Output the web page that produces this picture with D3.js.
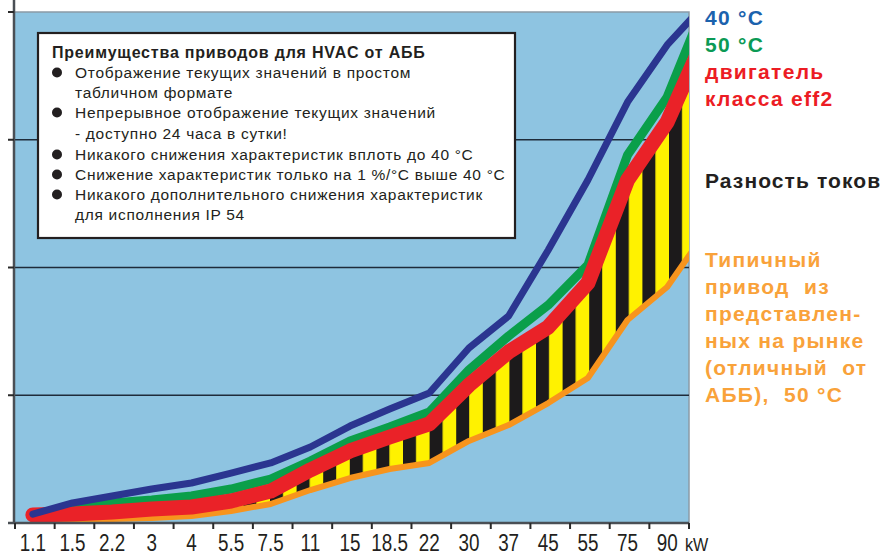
<!DOCTYPE html>
<html>
<head>
<meta charset="utf-8">
<script src="https://cdn.jsdelivr.net/npm/d3@7"></script>
<style>
  body { margin: 0; background: #fff; }
  svg { display: block; }
  text { font-family: "Liberation Sans", Arial, Helvetica, sans-serif; }
</style>
</head>
<body>
<svg id="chart" width="887" height="556"></svg>
<script>
// motor power, kW
var categories = ["1.1", "1.5", "2.2", "3", "4", "5.5", "7.5", "11", "15", "18.5", "22", "30", "37", "45", "55", "75", "90"];
// one more point past 90 kW, the lines run into it and get clipped at the frame
var offAxis = "110";

// relative current (no scale printed on the chart), last value = offAxis
var drive40 = [7.0, 15.7, 21.1, 26.6, 31.3, 39.1, 47.0, 59.5, 75.9, 89.2, 101.8, 137.0, 162.0, 213.7, 268.5, 329.5, 374.2, 408];
var drive50 = [7.0, 11.7, 15.7, 18.0, 21.1, 26.6, 34.4, 48.5, 64.2, 75.1, 86.9, 119.8, 146.4, 170.6, 202.0, 288.1, 333.5, 410];
var motorEff2 = [6.3, 7.0, 8.6, 11.0, 12.5, 17.2, 25.0, 41.5, 56.4, 67.3, 77.5, 108.0, 133.9, 153.4, 187.9, 268.5, 313.9, 383.6];
var typicalDrive = [2.3, 2.3, 3.1, 3.9, 5.5, 9.4, 14.9, 25.8, 35.2, 42.3, 47.0, 64.2, 76.7, 93.9, 113.5, 158.9, 184.7, 229.4];

var yTicks = [0, 100, 200, 300, 400];
var unitLabel = "kW";

var legendTitle = "Преимущества приводов для HVAC от АББ";
var legendLines = [
  { text: "Отображение текущих значений в простом", bullet: true },
  { text: "табличном формате", bullet: false },
  { text: "Непрерывное отображение текущих значений", bullet: true },
  { text: "- доступно 24 часа в сутки!", bullet: false },
  { text: "Никакого снижения характеристик вплоть до 40 °С", bullet: true },
  { text: "Снижение характеристик только на 1 %/°C выше 40 °C", bullet: true },
  { text: "Никакого дополнительного снижения характеристик", bullet: true },
  { text: "для исполнения IP 54", bullet: false }
];

var sideLabels = [
  { lines: ["40 °C"], color: "#1b62ad" },
  { lines: ["50 °C"], color: "#0b9a55" },
  { lines: ["двигатель", "класса eff2"], color: "#ec1c24" },
  { lines: ["Разность токов"], color: "#231f20" },
  { lines: ["Типичный", "привод  из", "представлен-", "ных на рынке", "(отличный  от", "АББ),  50 °C"], color: "#f9a23a" }
];

var svg = d3.select("#chart");
var pLeft = 15, pRight = 689, pTop = 12, pBottom = 523;

var x = d3.scaleBand()
  .domain(categories.concat([offAxis]))
  .range([pLeft, pLeft + (pRight - pLeft) / categories.length * (categories.length + 1)]);
var bw = x.bandwidth();
var y = d3.scaleLinear().domain([0, 400]).range([pBottom, pTop]);

function px(d, i) { return x(x.domain()[i]) + bw * 0.45; }

var defs = svg.append("defs");
defs.append("clipPath").attr("id", "plotClip")
  .append("rect").attr("x", 0).attr("y", 0).attr("width", pRight).attr("height", 556);

var stripes = defs.append("pattern").attr("id", "stripes")
  .attr("patternUnits", "userSpaceOnUse")
  .attr("x", 403).attr("y", 0).attr("width", 26.6).attr("height", 10);
stripes.append("rect").attr("width", 26.6).attr("height", 10).attr("fill", "#fff200");
stripes.append("rect").attr("width", 13).attr("height", 10).attr("fill", "#1c1a1b");

// plot background
svg.append("rect")
  .attr("x", pLeft).attr("y", pTop)
  .attr("width", pRight - pLeft).attr("height", pBottom - pTop)
  .attr("fill", "#8ec4e1");
svg.append("path")
  .attr("d", "M" + pLeft + "," + pTop + "H" + pRight + "V" + pBottom)
  .attr("fill", "none").attr("stroke", "#8b9aa6").attr("stroke-width", 1.5);

// grid lines
svg.selectAll(".grid").data(yTicks.slice(1, -1)).enter().append("line")
  .attr("x1", pLeft).attr("x2", pRight)
  .attr("y1", function(d) { return y(d); }).attr("y2", function(d) { return y(d); })
  .attr("stroke", "#1e2b3a").attr("stroke-width", 1.5);

// y axis (no labels)
svg.append("line").attr("x1", 14).attr("x2", 14).attr("y1", 0).attr("y2", pBottom + 1)
  .attr("stroke", "#4a4f55").attr("stroke-width", 2.5);
svg.selectAll(".ytick").data(yTicks).enter().append("line")
  .attr("x1", 8).attr("x2", 14)
  .attr("y1", function(d) { return y(d); }).attr("y2", function(d) { return y(d); })
  .attr("stroke", "#2a2a2a").attr("stroke-width", 2);

// legend box
var lg = svg.append("g");
lg.append("rect").attr("x", 38).attr("y", 33).attr("width", 477).attr("height", 205)
  .attr("fill", "#fff").attr("stroke", "#231f20").attr("stroke-width", 2.2);
lg.append("text").attr("x", 52).attr("y", 58)
  .attr("font-size", 16).attr("font-weight", "bold").attr("fill", "#231f20")
  .attr("letter-spacing", 0.8)
  .text(legendTitle);
var baseY = [78, 98, 118, 139, 160, 180, 200, 220];
legendLines.forEach(function(l, i) {
  lg.append("text").attr("x", 75).attr("y", baseY[i])
    .attr("font-size", 15.5).attr("fill", "#231f20").attr("letter-spacing", 0.7)
    .text(l.text);
  if (l.bullet) {
    lg.append("circle").attr("cx", 57).attr("cy", baseY[i] - 5.5).attr("r", 5)
      .attr("fill", "#231f20");
  }
});

// data marks
var plot = svg.append("g").attr("clip-path", "url(#plotClip)");

plot.append("path").datum(motorEff2)
  .attr("fill", "url(#stripes)")
  .attr("d", d3.area()
    .x(px)
    .y0(function(d, i) { return y(typicalDrive[i]); })
    .y1(function(d) { return y(d); }));

function drawLine(data, color, width) {
  plot.append("path").datum(data)
    .attr("fill", "none").attr("stroke", color).attr("stroke-width", width)
    .attr("stroke-linejoin", "round").attr("stroke-linecap", "round")
    .attr("d", d3.line().x(px).y(function(d) { return y(d); }));
}
drawLine(typicalDrive, "#f7941d", 6);
drawLine(drive50, "#0a9f4a", 9);
drawLine(motorEff2, "#ea2228", 15);
drawLine(drive40, "#2b3590", 7);

// x axis
svg.append("line").attr("x1", 8).attr("x2", pRight).attr("y1", pBottom).attr("y2", pBottom)
  .attr("stroke", "#4a4f55").attr("stroke-width", 2.5);
var tickPos = categories.map(function(c) { return x(c); }).concat([x(offAxis)]);
svg.selectAll(".xtick").data(tickPos).enter().append("line")
  .attr("x1", function(d) { return d; }).attr("x2", function(d) { return d; })
  .attr("y1", pBottom).attr("y2", pBottom + 6)
  .attr("stroke", "#2a2a2a").attr("stroke-width", 2);
svg.selectAll(".xlabel").data(categories).enter().append("text")
  .attr("transform", function(d) { return "translate(" + (x(d) + bw * 0.45) + ",551) scale(0.82,1)"; })
  .attr("text-anchor", "middle").attr("font-size", 23).attr("fill", "#231f20")
  .text(function(d) { return d; });
svg.append("text")
  .attr("transform", "translate(685,551) scale(0.85,1)")
  .attr("font-size", 19).attr("fill", "#231f20")
  .text(unitLabel);

// labels to the right of the chart
var sideBase = [[25], [52], [79, 106], [188], [267, 294, 321, 348, 375, 402]];
sideLabels.forEach(function(s, i) {
  s.lines.forEach(function(t, j) {
    svg.append("text").attr("x", 705).attr("y", sideBase[i][j])
      .attr("font-size", 21).attr("font-weight", "bold").attr("fill", s.color)
      .attr("letter-spacing", i === 3 ? 1.1 : 1.3)
      .style("white-space", "pre")
      .text(t);
  });
});
</script>
</body>
</html>
